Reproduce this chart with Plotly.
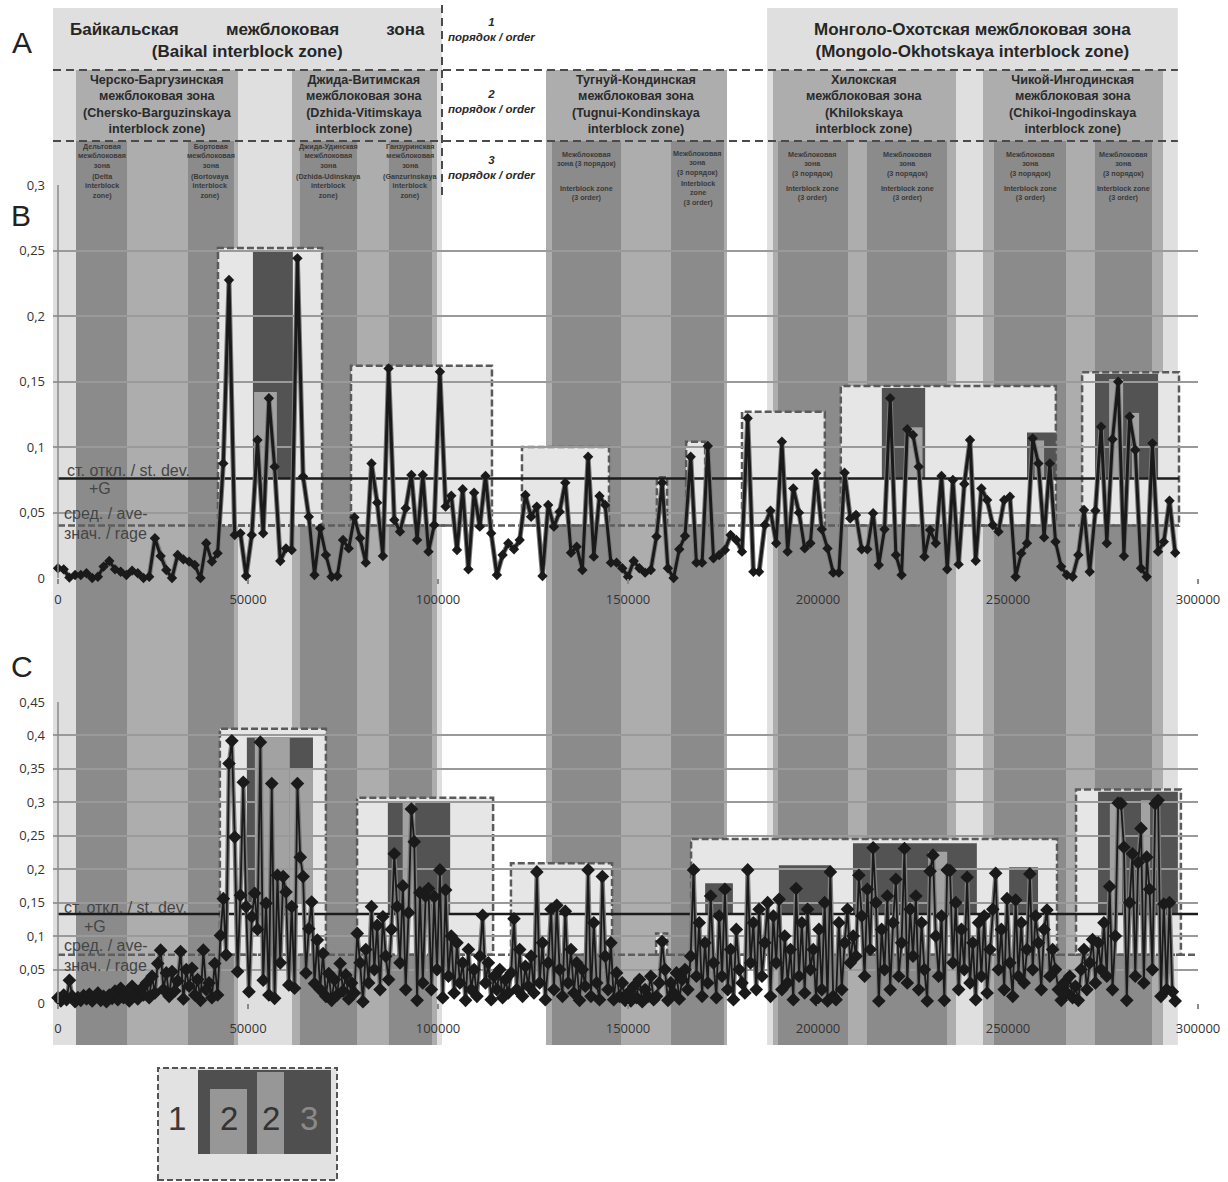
import plotly.graph_objects as go

W, H = 1228, 1182

# ---------------- data ----------------
B_STEP = 1500
B_VALUES = [
    0.0074, 0.0066, 0.0003, 0.0023, 0.0023, 0.0036, 0.0000, 0.0010, 0.0087, 0.0130,
    0.0066, 0.0048, 0.0023, 0.0056, 0.0036, 0.0000, 0.0010, 0.0303, 0.0168, 0.0061,
    0.0000, 0.0176, 0.0142, 0.0125, 0.0099, 0.0000, 0.0265, 0.0125, 0.0188, 0.0875,
    0.2275, 0.0328, 0.0341, 0.0015, 0.0328, 0.1053, 0.0341, 0.1372, 0.0850, 0.0130,
    0.0226, 0.0214, 0.2440, 0.0774, 0.0468, 0.0023, 0.0379, 0.0176, 0.0010, 0.0015,
    0.0290, 0.0226, 0.0463, 0.0303, 0.0117, 0.0875, 0.0575, 0.0168, 0.1600, 0.0443,
    0.0354, 0.0532, 0.0786, 0.0290, 0.0786, 0.0201, 0.0405, 0.1575, 0.0545, 0.0628,
    0.0214, 0.0677, 0.0066, 0.0651, 0.0392, 0.0779, 0.0341, 0.0023, 0.0176, 0.0265,
    0.0219, 0.0290, 0.0634, 0.0468, 0.0545, 0.0015, 0.0557, 0.0392, 0.0506, 0.0728,
    0.0193, 0.0239, 0.0061, 0.0926, 0.0163, 0.0626, 0.0557, 0.0117, 0.0117, 0.0074,
    0.0010, 0.0130, 0.0074, 0.0041, 0.0061, 0.0316, 0.0728, 0.0074, 0.0000, 0.0219,
    0.0321, 0.0926, 0.0117, 0.0117, 0.1008, 0.0150, 0.0176, 0.0214, 0.0328, 0.0290,
    0.0201, 0.1219, 0.0048, 0.0048, 0.0405, 0.0514, 0.0265, 0.1041, 0.0201, 0.0684,
    0.0499, 0.0226, 0.0265, 0.0799, 0.0372, 0.0226, 0.0041, 0.0041, 0.0804, 0.0455,
    0.0481, 0.0219, 0.0219, 0.0494, 0.0099, 0.0372, 0.1372, 0.0176, 0.0023, 0.1135,
    0.1092, 0.0850, 0.0163, 0.0366, 0.0265, 0.0779, 0.0066, 0.0748, 0.0104, 0.0718,
    0.1053, 0.0132, 0.0684, 0.0595, 0.0405, 0.0354, 0.0595, 0.0621, 0.0010, 0.0188,
    0.0265, 0.1066, 0.0875, 0.0310, 0.0875, 0.0277, 0.0087, 0.0023, 0.0010, 0.0176,
    0.0519, 0.0048, 0.0514, 0.1155, 0.0265, 0.1059, 0.1499, 0.0168, 0.1232, 0.0977,
    0.0074, 0.0010, 0.1028, 0.0201, 0.0277, 0.0590, 0.0193,
]

C_STEP = 750
C_VALUES = [
    0.008, 0.003, 0.012, 0.005, 0.034, 0.010, 0.002, 0.008, 0.004, 0.011,
    0.006, 0.013, 0.003, 0.009, 0.015, 0.004, 0.010, 0.002, 0.012, 0.007,
    0.018, 0.005, 0.022, 0.008, 0.014, 0.003, 0.025, 0.011, 0.006, 0.020,
    0.012, 0.030, 0.008, 0.040, 0.015, 0.059, 0.079, 0.020, 0.045, 0.010,
    0.047, 0.018, 0.033, 0.077, 0.006, 0.050, 0.025, 0.052, 0.012, 0.035,
    0.004, 0.079, 0.020, 0.030, 0.008, 0.059, 0.012, 0.101, 0.156, 0.072,
    0.358, 0.392, 0.248, 0.047, 0.161, 0.330, 0.144, 0.017, 0.129, 0.164,
    0.110, 0.390, 0.034, 0.149, 0.012, 0.328, 0.007, 0.191, 0.060, 0.189,
    0.166, 0.027, 0.144, 0.022, 0.328, 0.218, 0.189, 0.045, 0.111, 0.151,
    0.029, 0.094, 0.020, 0.074, 0.010, 0.044, 0.004, 0.035, 0.012, 0.059,
    0.018, 0.042, 0.006, 0.030, 0.015, 0.104, 0.060, 0.002, 0.080, 0.030,
    0.144, 0.050, 0.116, 0.020, 0.129, 0.070, 0.035, 0.110, 0.223, 0.144,
    0.060, 0.175, 0.020, 0.135, 0.290, 0.241, 0.004, 0.165, 0.030, 0.160,
    0.171, 0.020, 0.159, 0.050, 0.199, 0.008, 0.169, 0.040, 0.100, 0.015,
    0.090, 0.030, 0.060, 0.004, 0.080, 0.020, 0.050, 0.010, 0.070, 0.131,
    0.030, 0.060, 0.005, 0.040, 0.020, 0.050, 0.008, 0.035, 0.015, 0.045,
    0.126, 0.020, 0.080, 0.010, 0.055, 0.025, 0.070, 0.015, 0.196, 0.030,
    0.090, 0.005, 0.060, 0.140, 0.020, 0.146, 0.050, 0.010, 0.137, 0.030,
    0.080, 0.015, 0.060, 0.004, 0.050, 0.025, 0.199, 0.010, 0.120, 0.030,
    0.005, 0.189, 0.070, 0.020, 0.090, 0.005, 0.045, 0.010, 0.030, 0.004,
    0.015, 0.003, 0.025, 0.008, 0.035, 0.002, 0.020, 0.010, 0.040, 0.005,
    0.010, 0.030, 0.092, 0.050, 0.004, 0.030, 0.015, 0.045, 0.006, 0.035,
    0.050, 0.020, 0.070, 0.199, 0.040, 0.120, 0.010, 0.090, 0.030, 0.160,
    0.060, 0.008, 0.130, 0.040, 0.170, 0.020, 0.080, 0.005, 0.110, 0.050,
    0.030, 0.015, 0.199, 0.060, 0.120, 0.020, 0.140, 0.040, 0.090, 0.150,
    0.010, 0.130, 0.060, 0.155, 0.020, 0.100, 0.030, 0.080, 0.005, 0.171,
    0.040, 0.120, 0.015, 0.140, 0.050, 0.080, 0.005, 0.110, 0.020, 0.150,
    0.003, 0.196, 0.010, 0.005, 0.120, 0.020, 0.090, 0.140, 0.060, 0.100,
    0.070, 0.191, 0.130, 0.040, 0.170, 0.080, 0.232, 0.150, 0.003, 0.110,
    0.050, 0.160, 0.020, 0.120, 0.185, 0.040, 0.090, 0.231, 0.030, 0.140,
    0.070, 0.160, 0.020, 0.120, 0.050, 0.003, 0.197, 0.221, 0.100, 0.040,
    0.130, 0.004, 0.199, 0.198, 0.060, 0.150, 0.020, 0.110, 0.050, 0.188,
    0.030, 0.090, 0.005, 0.120, 0.040, 0.130, 0.015, 0.080, 0.140, 0.194,
    0.050, 0.110, 0.020, 0.156, 0.060, 0.010, 0.154, 0.040, 0.120, 0.030,
    0.080, 0.193, 0.050, 0.130, 0.090, 0.020, 0.110, 0.139, 0.040, 0.080,
    0.050, 0.020, 0.004, 0.030, 0.015, 0.040, 0.008, 0.025, 0.004, 0.050,
    0.080, 0.020, 0.060, 0.095, 0.030, 0.090, 0.050, 0.120, 0.040, 0.174,
    0.020, 0.100, 0.299, 0.298, 0.233, 0.004, 0.150, 0.223, 0.040, 0.210,
    0.261, 0.030, 0.218, 0.170, 0.050, 0.298, 0.303, 0.010, 0.148, 0.020,
    0.150, 0.017, 0.003,
]

B_MEAN, B_SD_G = 0.040, 0.076
C_MEAN, C_SD_G = 0.072, 0.133
B_LINES_END = 295000
C_LINES_END = 300000

X_MIN, X_MAX = -1316, 300000
X_TICKS = [0, 50000, 100000, 150000, 200000, 250000, 300000]
X_TICKTEXT = ["0", "50000", "100000", "150000", "200000", "250000", "300000"]
B_YTICKS = [0, 0.05, 0.1, 0.15, 0.2, 0.25, 0.3]
B_YTICKTEXT = ["0", "0,05", "0,1", "0,15", "0,2", "0,25", "0,3"]
C_YTICKS = [0, 0.05, 0.1, 0.15, 0.2, 0.25, 0.3, 0.35, 0.4, 0.45]
C_YTICKTEXT = ["0", "0,05", "0,1", "0,15", "0,2", "0,25", "0,3", "0,35", "0,4", "0,45"]

# interblock zones (profile distance, m)
ORDER1_ZONES = [(-1316, 101050), (186600, 294700)]
ORDER2_ZONES = [(4740, 47370), (61580, 99740), (128420, 176050), (188160, 236320), (243420, 290790)]
ORDER3_ZONES = [(4740, 18160), (34210, 46300), (63680, 78680), (87100, 98420),
                (130000, 148160), (161320, 175260), (189470, 207890), (212890, 233950),
                (246320, 265260), (272890, 287890)]
ORDER_DIVIDER_X = 101050

NB = "\u00a0"
ORDER1_LABELS = [
    ["Байкальская" + NB * 10 + "межблоковая" + NB * 10 + "зона", "(Baikal interblock zone)"],
    ["Монголо-Охотская межблоковая зона", "(Mongolo-Okhotskaya interblock zone)"],
]
ORDER2_LABELS = [
    ["Черско-Баргузинская", "межблоковая зона", "(Chersko-Barguzinskaya", "interblock zone)"],
    ["Джида-Витимская", "межблоковая зона", "(Dzhida-Vitimskaya", "interblock zone)"],
    ["Тугнуй-Кондинская", "межблоковая зона", "(Tugnui-Kondinskaya", "interblock zone)"],
    ["Хилокская", "межблоковая зона", "(Khilokskaya", "interblock zone)"],
    ["Чикой-Ингодинская", "межблоковая зона", "(Chikoi-Ingodinskaya", "interblock zone)"],
]
ORDER3_LABELS = [
    (["Дельтовая", "межблоковая", "зона"], ["(Delta", "interblock", "zone)"]),
    (["Бортовая", "межблоковая", "зона"], ["(Bortovaya", "interblock", "zone)"]),
    (["Джида-Удинская", "межблоковая", "зона"], ["(Dzhida-Udinskaya", "interblock", "zone)"]),
    (["Ганзуринская", "межблоковая", "зона"], ["(Ganzurinskaya", "interblock", "zone)"]),
    (["Межблоковая", "зона (3 порядок)"], ["Interblock zone", "(3 order)"]),
    (["Межблоковая", "зона", "(3 порядок)"], ["Interblock", "zone", "(3 order)"]),
    (["Межблоковая", "зона", "(3 порядок)"], ["Interblock zone", "(3 order)"]),
    (["Межблоковая", "зона", "(3 порядок)"], ["Interblock zone", "(3 order)"]),
    (["Межблоковая", "зона", "(3 порядок)"], ["Interblock zone", "(3 order)"]),
    (["Межблоковая", "зона", "(3 порядок)"], ["Interblock zone", "(3 order)"]),
]
ORDER_ROW_TITLES = ["1", "2", "3"]
ORDER_ROW_SUB = "порядок / order"

# anomaly boxes (x0, x1, y0, y1)
B_ANOM1 = [(42100, 69500, 0.040, 0.252), (77100, 114200, 0.040, 0.162), (122100, 145000, 0.040, 0.100),
           (157600, 160300, 0.040, 0.077), (165300, 170300, 0.040, 0.104), (180000, 201800, 0.040, 0.127),
           (206000, 262600, 0.040, 0.1465), (269500, 295000, 0.040, 0.157)]
B_ANOM3 = [(51300, 61800, 0.076, 0.249), (216800, 228200, 0.076, 0.145), (255000, 262600, 0.076, 0.111),
           (272900, 289500, 0.076, 0.156)]
B_ANOM2 = [(51600, 57600, 0.076, 0.142), (223500, 227500, 0.076, 0.115), (257000, 259500, 0.076, 0.105),
           (276600, 280300, 0.076, 0.152), (282600, 284500, 0.076, 0.126)]
C_ANOM1 = [(42600, 70500, 0.072, 0.410), (78700, 114500, 0.072, 0.307), (119200, 145800, 0.072, 0.209),
           (157400, 160300, 0.072, 0.104), (166600, 262900, 0.072, 0.245), (267900, 295500, 0.072, 0.319)]
C_ANOM3 = [(49700, 67100, 0.150, 0.397), (86800, 103200, 0.133, 0.302), (170300, 177600, 0.133, 0.179),
           (189700, 203200, 0.133, 0.206), (209200, 241800, 0.133, 0.239), (250300, 257900, 0.133, 0.203),
           (273700, 294700, 0.133, 0.316)]
C_ANOM2 = [(51800, 61000, 0.150, 0.397), (61000, 67100, 0.150, 0.350), (90700, 94000, 0.133, 0.300),
           (229000, 234000, 0.133, 0.226), (276800, 280000, 0.133, 0.298), (285000, 287400, 0.133, 0.303)]

# ---------------- styles ----------------
LIGHT, MEDIUM, DARK = "#dfdfdf", "#adadad", "#8b8b8b"
A1_FILL, A2_FILL, A3_FILL = "#e6e6e6", "#a2a2a2", "#535353"
BORDER = "#5a5a5a"
FONT = "Liberation Sans"


def py(p):
    return 1 - p / H


def px(p):
    return p / W


TOP1, TOP2, TOP3, BOTTOM = py(8), py(70), py(141), py(1045)

fig = go.Figure()
shapes = []
ann = []

# background zone bands
for x0, x1 in ORDER1_ZONES:
    shapes.append(dict(type="rect", xref="x", yref="paper", x0=x0, x1=x1, y0=BOTTOM, y1=TOP1,
                       fillcolor=LIGHT, line_width=0, layer="below"))
for x0, x1 in ORDER2_ZONES:
    shapes.append(dict(type="rect", xref="x", yref="paper", x0=x0, x1=x1, y0=BOTTOM, y1=TOP2,
                       fillcolor=MEDIUM, line_width=0, layer="below"))
for x0, x1 in ORDER3_ZONES:
    shapes.append(dict(type="rect", xref="x", yref="paper", x0=x0, x1=x1, y0=BOTTOM, y1=TOP3,
                       fillcolor=DARK, line_width=0, layer="below"))

# header dividers
for yy in (TOP2, TOP3):
    shapes.append(dict(type="line", xref="x", yref="paper", x0=X_MIN, x1=ORDER1_ZONES[1][1], y0=yy, y1=yy,
                       line=dict(color="#4a4a4a", width=2, dash="8px,5px"), layer="above"))
shapes.append(dict(type="line", xref="x", yref="paper", x0=ORDER_DIVIDER_X, x1=ORDER_DIVIDER_X,
                   y0=py(195), y1=py(5), line=dict(color="#4a4a4a", width=2, dash="8px,5px"), layer="above"))


def anomaly(boxes, xr, yr, fill, border):
    for x0, x1, y0, y1 in boxes:
        d = dict(type="rect", xref=xr, yref=yr, x0=x0, x1=x1, y0=y0, y1=y1, fillcolor=fill, layer="below")
        if border:
            d["line"] = dict(color=BORDER, width=2.5, dash="7px,3px")
        else:
            d["line_width"] = 0
        shapes.append(d)


anomaly(B_ANOM1, "x", "y", A1_FILL, True)
anomaly(B_ANOM3, "x", "y", A3_FILL, False)
anomaly(B_ANOM2, "x", "y", A2_FILL, False)
anomaly(C_ANOM1, "x2", "y2", A1_FILL, True)
anomaly(C_ANOM3, "x2", "y2", A3_FILL, False)
anomaly(C_ANOM2, "x2", "y2", A2_FILL, False)

# y axis lines
shapes.append(dict(type="line", xref="x", yref="y", x0=0, x1=0, y0=0, y1=B_YTICKS[-1],
                   line=dict(color="#8a8a8a", width=1.5)))
shapes.append(dict(type="line", xref="x2", yref="y2", x0=0, x1=0, y0=0, y1=C_YTICKS[-1],
                   line=dict(color="#8a8a8a", width=1.5)))

# header labels
for (x0, x1), lines in zip(ORDER1_ZONES, ORDER1_LABELS):
    ann.append(dict(xref="x", yref="paper", x=(x0 + x1) / 2, y=py(40), text="<b>" + "<br>".join(lines) + "</b>",
                    showarrow=False, font=dict(family=FONT, size=17, color="#262626"), xanchor="center", yanchor="middle"))
for (x0, x1), lines in zip(ORDER2_ZONES, ORDER2_LABELS):
    ann.append(dict(xref="x", yref="paper", x=(x0 + x1) / 2, y=py(104.5), text="<b>" + "<br>".join(lines) + "</b>",
                    showarrow=False, font=dict(family=FONT, size=12.6, color="#2a2a2a"), xanchor="center", yanchor="middle"))
for i, ((x0, x1), (top, bot)) in enumerate(zip(ORDER3_ZONES, ORDER3_LABELS)):
    if i < 4:
        ct, cb = 156, 186
    elif i == 4:
        ct, cb = 159, 193
    elif i == 5:
        ct, cb = 163, 193
    else:
        ct, cb = 163.5, 193
    for lines, c in ((top, ct), (bot, cb)):
        ann.append(dict(xref="x", yref="paper", x=(x0 + x1) / 2, y=py(c), text="<b>" + "<br>".join(lines) + "</b>",
                        showarrow=False, font=dict(family=FONT, size=7.2, color="#3a3a3a"), xanchor="center", yanchor="middle"))
for t, c in zip(ORDER_ROW_TITLES, (30, 101, 167.5)):
    ann.append(dict(xref="paper", yref="paper", x=px(491), y=py(c), text="<b><i>" + t + "<br>" + ORDER_ROW_SUB + "</i></b>",
                    showarrow=False, font=dict(family=FONT, size=11.5, color="#2a2a2a"), xanchor="center", yanchor="middle"))

# panel letters
for t, (lx, ly) in zip(["A", "B", "C"], [(22, 43), (21, 215), (22, 666)]):
    ann.append(dict(xref="paper", yref="paper", x=px(lx), y=py(ly), text=t, showarrow=False,
                    font=dict(family=FONT, size=30, color="#222"), xanchor="center", yanchor="middle"))

# mean / st.dev labels
LBL = dict(family=FONT, size=16, color="#454545")
for xr, yr, pos in (("x", "y", [(1840, 0.0824, "ст. откл. / st. dev."), (7500, 0.068, "+G"),
                                (1000, 0.0496, "сред. / ave-"), (1000, 0.0336, "знач. / rage")]),
                    ("x2", "y2", [(1000, 0.143, "ст. откл. / st. dev."), (6300, 0.115, "+G"),
                                  (1000, 0.0866, "сред. / ave-"), (1000, 0.0567, "знач. / rage")])):
    for x, y, t in pos:
        ann.append(dict(xref=xr, yref=yr, x=x, y=y, text=t, showarrow=False, font=LBL,
                        xanchor="left", yanchor="middle"))

# legend scheme
shapes += [
    dict(type="rect", xref="paper", yref="paper", x0=px(158), x1=px(337), y0=py(1180), y1=py(1068),
         fillcolor="#e2e2e2", line=dict(color="#555", width=2, dash="6px,3px")),
    dict(type="rect", xref="paper", yref="paper", x0=px(198), x1=px(331), y0=py(1154), y1=py(1070),
         fillcolor="#4f4f4f", line_width=0),
    dict(type="rect", xref="paper", yref="paper", x0=px(210), x1=px(247), y0=py(1154), y1=py(1089),
         fillcolor="#979797", line_width=0),
    dict(type="rect", xref="paper", yref="paper", x0=px(257), x1=px(284), y0=py(1154), y1=py(1072),
         fillcolor="#979797", line_width=0),
]
for t, lx, col in (("1", 177, "#3a3a3a"), ("2", 229, "#333"), ("2", 271, "#333"), ("3", 309, "#8a8a8a")):
    ann.append(dict(xref="paper", yref="paper", x=px(lx), y=py(1118), text=t, showarrow=False,
                    font=dict(family=FONT, size=33, color=col), xanchor="center", yanchor="middle"))

# ---------------- traces ----------------
bx = [i * B_STEP for i in range(len(B_VALUES))]
cx = [i * C_STEP for i in range(len(C_VALUES))]

fig.add_trace(go.Scatter(x=[0, B_LINES_END], y=[B_MEAN, B_MEAN], mode="lines", xaxis="x", yaxis="y",
                         line=dict(color="#5e5e5e", width=2.5, dash="7px,3px"), hoverinfo="skip"))
fig.add_trace(go.Scatter(x=[0, B_LINES_END], y=[B_SD_G, B_SD_G], mode="lines", xaxis="x", yaxis="y",
                         line=dict(color="#1c1c1c", width=2.5), hoverinfo="skip"))
fig.add_trace(go.Scatter(x=bx, y=B_VALUES, mode="lines", xaxis="x", yaxis="y",
                         line=dict(color="#7a7a7a", width=5), hoverinfo="skip", cliponaxis=False))
fig.add_trace(go.Scatter(x=bx, y=B_VALUES, mode="lines+markers", xaxis="x", yaxis="y",
                         line=dict(color="#1a1a1a", width=3),
                         marker=dict(symbol="diamond", size=8, color="#1a1a1a"), cliponaxis=False))

fig.add_trace(go.Scatter(x=[0, C_LINES_END], y=[C_MEAN, C_MEAN], mode="lines", xaxis="x2", yaxis="y2",
                         line=dict(color="#5e5e5e", width=2.5, dash="7px,3px"), hoverinfo="skip"))
fig.add_trace(go.Scatter(x=[0, C_LINES_END], y=[C_SD_G, C_SD_G], mode="lines", xaxis="x2", yaxis="y2",
                         line=dict(color="#1c1c1c", width=2.5), hoverinfo="skip"))
fig.add_trace(go.Scatter(x=cx, y=C_VALUES, mode="lines", xaxis="x2", yaxis="y2",
                         line=dict(color="#7c7c7c", width=4.5), hoverinfo="skip", cliponaxis=False))
fig.add_trace(go.Scatter(x=cx, y=C_VALUES, mode="lines+markers", xaxis="x2", yaxis="y2",
                         line=dict(color="#1a1a1a", width=1.8),
                         marker=dict(symbol="diamond", size=10.5, color="#1a1a1a"), cliponaxis=False))

TICKFONT = dict(family="Open Sans", size=13, color="#333")
xcommon = dict(range=[X_MIN, X_MAX], domain=[px(53), px(1198)], tickvals=X_TICKS, ticktext=X_TICKTEXT,
               ticks="outside", ticklen=5, tickwidth=1.5, tickcolor="#8a8a8a", showgrid=False,
               zeroline=False, showline=False, tickfont=TICKFONT, fixedrange=True)
ycommon = dict(showgrid=True, gridcolor="#9a9a9a", gridwidth=1.5, zeroline=False, showline=False,
               ticks="", tickfont=TICKFONT, ticklabelstandoff=7, fixedrange=True)

fig.update_layout(
    autosize=True, margin=dict(l=0, r=0, t=0, b=0, autoexpand=False),
    paper_bgcolor="white", plot_bgcolor="rgba(0,0,0,0)", showlegend=False,
    xaxis=dict(**xcommon, anchor="y", ticklabelstandoff=4),
    xaxis2=dict(**xcommon, anchor="y2", ticklabelstandoff=8),
    yaxis=dict(**ycommon, anchor="x", domain=[py(578), py(185)], range=[0, 0.3],
               tickvals=B_YTICKS, ticktext=B_YTICKTEXT),
    yaxis2=dict(**ycommon, anchor="x2", domain=[py(1003), py(702)], range=[0, 0.45],
                tickvals=C_YTICKS, ticktext=C_YTICKTEXT),
    shapes=shapes, annotations=ann,
)

POST = (
    "var gd=document.getElementById('{plot_id}');"
    "document.documentElement.style.overflow='hidden';"
    "document.body.style.margin='0';document.body.style.overflow='hidden';"
    "gd.style.position='fixed';gd.style.left='0';gd.style.top='0';"
    "gd.style.width='100vw';gd.style.height='100vh';"
    "Plotly.Plots.resize(gd);"
)

fig.write_html(
    "out.html",
    config={"displayModeBar": False, "responsive": True},
    default_width="100vw", default_height="100vh",
    post_script=POST,
)
